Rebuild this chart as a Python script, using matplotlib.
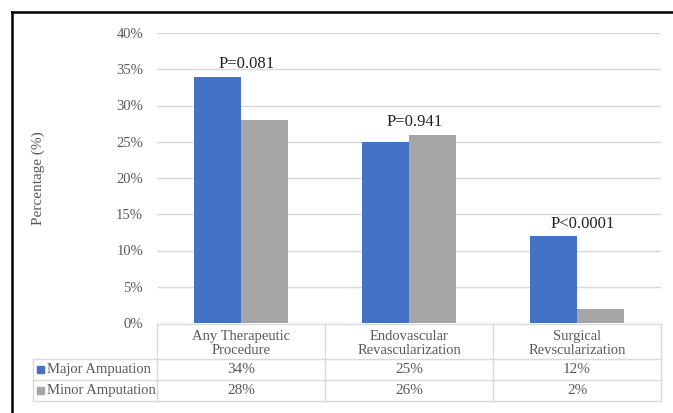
import numpy as np
import matplotlib
matplotlib.use("Agg")
import matplotlib.pyplot as plt
from matplotlib.lines import Line2D

plt.rcParams['font.family'] = ['Liberation Serif', 'DejaVu Serif']

categories = ["Any Therapeutic\nProcedure", "Endovascular\nRevascularization", "Surgical\nRevscularization"]
series_names = ["Major Ampuation", "Minor Amputation"]
major = [34, 25, 12]
minor = [28, 26, 2]
p_values = ["P=0.081", "P=0.941", "P<0.0001"]
y_ticks = [0, 5, 10, 15, 20, 25, 30, 35, 40]

blue = "#4472C4"
gray = "#A5A5A5"
txt = "#595959"
grid = "#D9D9D9"

W, H = 673, 413
fig = plt.figure(figsize=(W / 100, H / 100), dpi=100)

# plot area in pixels: x 157..661, y 33..323
ax = fig.add_axes([157 / W, 1 - 323 / H, (661 - 157) / W, (323 - 33) / H])
x = np.arange(len(categories))
bw = 0.28
ax.bar(x - bw / 2, major, bw, color=blue, zorder=3)
ax.bar(x + bw / 2, minor, bw, color=gray, zorder=3)
ax.set_xlim(-0.5, 2.5)
ax.set_ylim(0, 40)
ax.set_yticks(y_ticks)
ax.set_yticklabels([f"{t}%" for t in y_ticks], color=txt, fontsize=10.5)
ax.tick_params(axis='y', length=0, pad=10)
ax.set_xticks([])
ax.yaxis.grid(True, color=grid, linewidth=1, zorder=0)
for s in ax.spines.values():
    s.set_visible(False)

for i, p in enumerate(p_values):
    top = max(major[i], minor[i])
    ax.annotate(p, (x[i], top), xytext=(4, 3), textcoords='offset points',
                ha='center', va='bottom', fontsize=12, color="#222222")

# overlay in pixel coordinates for table and border
ov = fig.add_axes([0, 0, 1, 1], zorder=5)
ov.set_xlim(0, W)
ov.set_ylim(H, 0)
ov.axis('off')
ov.patch.set_alpha(0)

ov.text(38, 178, "Percentage (%)", rotation=90, ha='center', va='center',
        color=txt, fontsize=11)

col_edges = [157, 325, 493, 661]
leg_left = 33
row_y = [324, 359, 380, 401]
lk = dict(color=grid, linewidth=1)
ov.add_line(Line2D([col_edges[0], col_edges[-1]], [row_y[0], row_y[0]], **lk))
for yy in row_y[1:]:
    ov.add_line(Line2D([leg_left, col_edges[-1]], [yy, yy], **lk))
for xx in col_edges:
    ov.add_line(Line2D([xx, xx], [row_y[0], row_y[-1]], **lk))
ov.add_line(Line2D([leg_left, leg_left], [row_y[1], row_y[-1]], **lk))

for i, c in enumerate(categories):
    cx = (col_edges[i] + col_edges[i + 1]) / 2
    ov.text(cx, (row_y[0] + row_y[1]) / 2 + 2, c, ha='center', va='center',
            color=txt, fontsize=10.5, linespacing=1.1)
    ov.text(cx, (row_y[1] + row_y[2]) / 2, f"{major[i]}%", ha='center', va='center',
            color=txt, fontsize=11)
    ov.text(cx, (row_y[2] + row_y[3]) / 2, f"{minor[i]}%", ha='center', va='center',
            color=txt, fontsize=11)

for r, (name, col) in enumerate(zip(series_names, [blue, gray])):
    cy = (row_y[r + 1] + row_y[r + 2]) / 2
    ov.add_patch(plt.Rectangle((37, cy - 3.5), 7, 7, color=col))
    ov.text(47, cy, name, ha='left', va='center', color=txt, fontsize=10.5)

# black frame (top and left)
ov.add_line(Line2D([11.5, W], [11.5, 11.5], color='black', linewidth=1.8))
ov.add_line(Line2D([11.5, 11.5], [11.5, H], color='black', linewidth=1.8))

fig.savefig("out.png", dpi=100)
